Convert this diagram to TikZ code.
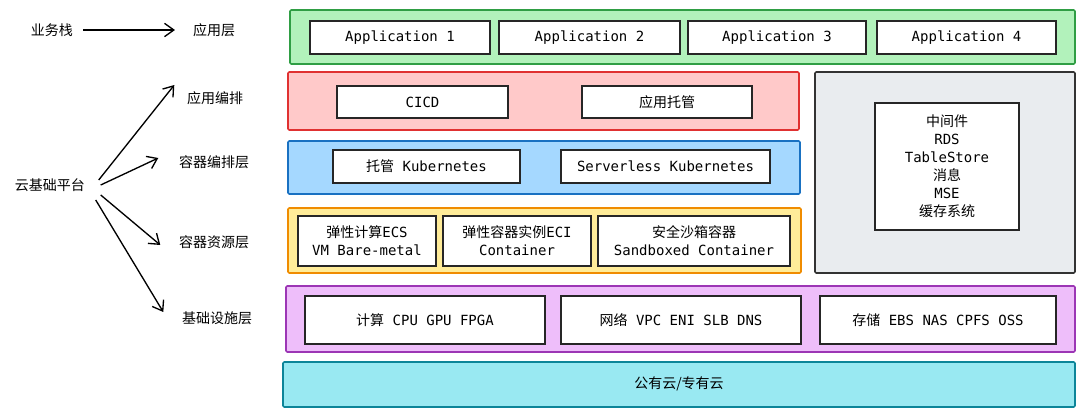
\documentclass[tikz,border=0pt]{standalone}
\usetikzlibrary{arrows.meta}
\usepackage{fontspec}
\setmainfont{DejaVu Sans Mono}
\newfontfamily\cjk{Noto Sans CJK SC}
\begin{document}
\begin{tikzpicture}[x=0.75pt,y=-0.75pt,
 font=\fontsize{10.5}{13.5}\selectfont,
 band/.style={draw=#1,line width=1.2pt,rounded corners=1pt},
 box/.style={draw=black!85,fill=white,line width=0.9pt,align=center,inner sep=0pt},
 lab/.style={font=\cjk\fontsize{10.5}{12}\selectfont},
 arr/.style={-{Straight Barb[length=7pt,width=10pt]},line width=1pt}]
\useasboundingbox (0,0) rectangle (1086,416);
\definecolor{gF}{HTML}{B2F2BB}\definecolor{gD}{HTML}{2F9E44}
\definecolor{rF}{HTML}{FFC9C9}\definecolor{rD}{HTML}{E03131}
\definecolor{bF}{HTML}{A5D8FF}\definecolor{bD}{HTML}{1971C2}
\definecolor{oF}{HTML}{FFEC99}\definecolor{oD}{HTML}{F08C00}
\definecolor{pF}{HTML}{EEBEFA}\definecolor{pD}{HTML}{9C36B5}
\definecolor{cF}{HTML}{99E9F2}\definecolor{cD}{HTML}{0C8599}
\definecolor{yF}{HTML}{E9ECEF}
% bands
\draw[band=gD,fill=gF] (290,10) rectangle (1075,64);
\draw[band=rD,fill=rF] (288,72) rectangle (799,130);
\draw[band=bD,fill=bF] (288,141) rectangle (800,194);
\draw[band=oD,fill=oF] (288,208) rectangle (801,273);
\draw[band=black!80,fill=yF] (815,72) rectangle (1075,273);
\draw[band=pD,fill=pF] (286,286) rectangle (1075,352);
\draw[band=cD,fill=cF] (283,362) rectangle (1075,407);
\node[lab] (pub) at (679,384) {公有云/专有云};
% boxes
\newcommand{\bx}[6]{\node[box,minimum width={(#3-#2)*0.75pt},minimum height={(#5-#4)*0.75pt}] (#1) at ({(#2+#3)/2},{(#4+#5)/2}) {#6};}
\bx{a1}{310}{490}{21}{54}{Application 1}
\bx{a2}{499}{680}{21}{54}{Application 2}
\bx{a3}{688}{866}{21}{54}{Application 3}
\bx{a4}{877}{1056}{21}{54}{Application 4}
\bx{cicd}{337}{508}{86}{118}{CICD}
\bx{tg}{582}{752}{86}{118}{{\cjk 应用托管}}
\bx{k1}{333}{520}{150}{183}{{\cjk 托管} Kubernetes}
\bx{k2}{561}{770}{150}{183}{Serverless Kubernetes}
\bx{r1}{298}{436}{216}{266}{{\cjk 弹性计算}ECS\\VM Bare-metal}
\bx{r2}{443}{591}{216}{266}{{\cjk 弹性容器实例}ECI\\Container}
\bx{r3}{598}{790}{216}{266}{{\cjk 安全沙箱容器}\\Sandboxed Container}
\bx{mw}{875}{1019}{103}{230}{{\cjk 中间件}\\RDS\\TableStore\\{\cjk 消息}\\MSE\\{\cjk 缓存系统}}
\bx{i1}{305}{545}{296}{344}{{\cjk 计算} CPU GPU FPGA}
\bx{i2}{561}{801}{296}{344}{{\cjk 网络} VPC ENI SLB DNS}
\bx{i3}{820}{1056}{296}{344}{{\cjk 存储} EBS NAS CPFS OSS}
% left labels
\node[lab] (ywz) at (52,30) {业务栈};
\node[lab] (yyc) at (214,30) {应用层};
\node[lab] (yun) at (50,185) {云基础平台};
\node[lab] (yybp) at (215,98) {应用编排};
\node[lab] (rqbp) at (214,162) {容器编排层};
\node[lab] (rqzy) at (214,242) {容器资源层};
\node[lab] (jcss) at (217,318) {基础设施层};
\draw[arr] ([xshift=4]ywz.east) -- ([xshift=-10]yyc.west);
\draw[arr] ([shift={(9,-5)}]yun.east) -- ([shift={(-8,-13)}]yybp.west);
\draw[arr] ([shift={(11,0)}]yun.east) -- ([shift={(-16,-4)}]rqbp.west);
\draw[arr] ([shift={(11,10)}]yun.east) -- ([shift={(-14,3)}]rqzy.west);
\draw[arr] ([shift={(6,15)}]yun.east) -- ([shift={(-14,-6)}]jcss.west);
\end{tikzpicture}
\end{document}
